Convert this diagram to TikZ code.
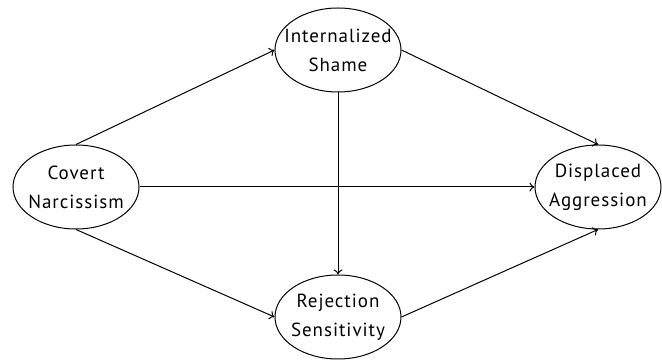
\documentclass[tikz,border=0pt]{standalone}
\usepackage{fontspec}
\setmainfont{PT Sans}[LetterSpace=5]
\usetikzlibrary{shapes.geometric,positioning,arrows.meta}

\tikzset{
	varname/.style={align=center, font=\fontsize{19}{29}\selectfont},
	latent/.style={ellipse, draw, line width=1pt, minimum width=126pt, minimum height=84pt, inner sep=0pt, label={[varname]center:#1}},
	path/.style={line width=1pt, -{To[length=5pt,width=9pt]}}
}

\begin{document}
\begin{tikzpicture}[x=1pt,y=1pt]
	\useasboundingbox (0,0) rectangle (662,361);
	
	%variables
	\node[latent={Covert\\Narcissism}] (cn) at (76,174) {};
	\node[latent={Internalized\\Shame}] (is) at (338,311) {};
	\node[latent={Rejection\\Sensitivity}] (rs) at (338,44) {};
	\node[latent={Displaced\\Aggression}] (da) at (598,174) {};
	
	%paths
	\draw[path] (cn.north) -- (is.west);
	\draw[path] (cn.east) -- (da.west);
	\draw[path] (cn.south) -- (rs.west);
	\draw[path] (is.south) -- (rs.north);
	\draw[path] (is.east) -- (da.north);
	\draw[path] (rs.east) -- (da.south);
\end{tikzpicture}
\end{document}
